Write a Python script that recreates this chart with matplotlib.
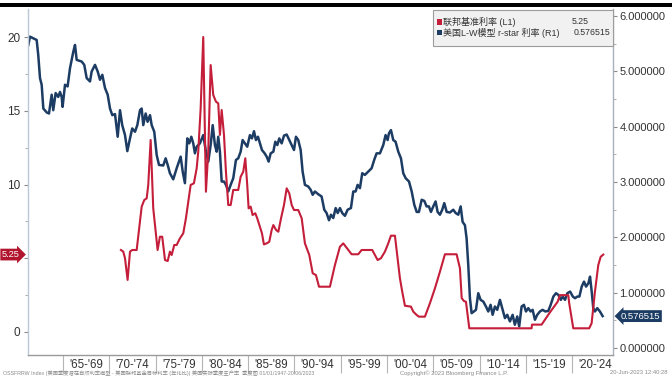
import matplotlib.pyplot as plt
import matplotlib.transforms as mtransforms
from matplotlib.patches import Rectangle
from matplotlib.ticker import FormatStrFormatter, MultipleLocator

plt.rcParams['font.family'] = ['Liberation Sans', 'Noto Sans CJK SC', 'DejaVu Sans']
plt.rcParams['axes.unicode_minus'] = False

RED = '#c41e3a'
NAVY = '#1d3c64'

# 联邦基准利率 (L1), decimal years
ff_year = [1971.26, 1971.51, 1971.70, 1971.98, 1972.24, 1972.48, 1972.96, 1973.32, 1973.50, 1973.78,
           1974.04, 1974.21, 1974.47, 1974.75, 1975.01, 1975.22, 1975.47, 1975.72, 1976.02, 1976.31,
           1976.55, 1976.74, 1977.02, 1977.28, 1977.63, 1977.99, 1978.28, 1978.53, 1978.79, 1979.14,
           1979.44, 1979.61, 1979.87, 1980.15, 1980.33, 1980.44, 1980.69, 1980.95, 1981.23, 1981.52,
           1981.77, 1981.95, 1982.14, 1982.39, 1982.60, 1982.85, 1983.11, 1983.39, 1983.93, 1984.19,
           1984.47, 1984.69, 1984.90, 1985.05, 1985.27, 1985.48, 1985.77, 1985.98, 1986.27, 1986.49,
           1986.70, 1987.00, 1987.28, 1987.54, 1987.72, 1988.01, 1988.26, 1988.55, 1988.87, 1989.16,
           1989.44, 1989.70, 1989.95, 1990.41, 1990.78, 1991.13, 1991.60, 1991.97, 1992.32, 1992.65,
           1993.83, 1994.37, 1994.91, 1995.27, 1995.81, 1996.17, 1996.89, 1997.25, 1998.40, 1998.69,
           1998.98, 1999.34, 1999.77, 2000.13, 2000.42, 2000.85, 2001.14, 2001.39, 2001.64, 2001.93,
           2002.58, 2002.83, 2003.20, 2003.44, 2004.09, 2004.63, 2005.17, 2005.71, 2006.25, 2007.51,
           2007.87, 2008.06, 2008.30, 2008.52, 2008.88, 2015.61, 2015.65, 2016.69, 2017.52, 2018.42,
           2018.67, 2019.57, 2019.67, 2020.11, 2021.83, 2022.09, 2022.45, 2022.81, 2023.07, 2023.35]
ff_rate = [5.56, 5.45, 5.00, 3.53, 5.45, 5.56, 5.56, 7.48, 8.50, 8.95,
           9.06, 9.97, 13.02, 8.38, 6.80, 5.56, 6.46, 6.46, 4.88, 4.81,
           5.45, 5.22, 5.90, 5.90, 6.35, 6.69, 7.71, 8.84, 9.97, 10.08,
           11.10, 12.23, 15.17, 20.00, 13.58, 9.51, 12.23, 18.10, 16.07, 15.62,
           15.50, 13.36, 15.05, 13.36, 10.87, 8.61, 8.61, 9.63, 9.63, 10.53,
           10.87, 11.78, 9.97, 8.38, 8.50, 7.93, 8.05, 7.71, 7.14, 6.69,
           5.94, 6.01, 6.12, 6.92, 7.25, 6.92, 6.80, 7.71, 8.61, 9.74,
           9.40, 8.61, 8.27, 8.27, 7.71, 6.01, 5.22, 3.98, 3.86, 3.07,
           3.07, 4.54, 5.78, 6.01, 5.56, 5.27, 5.27, 5.56, 5.56, 5.22,
           4.88, 5.00, 5.45, 6.01, 6.53, 6.53, 5.00, 3.64, 2.73, 1.78,
           1.72, 1.38, 1.15, 1.04, 1.04, 1.95, 2.96, 4.09, 5.27, 5.27,
           4.32, 2.30, 2.10, 2.05, 0.25, 0.25, 0.50, 0.50, 1.27, 2.05,
           2.50, 2.50, 1.95, 0.25, 0.25, 0.59, 2.73, 4.54, 5.10, 5.25]

# 美国L-W模型 r-star 利率 (R1)
rs_year = [1961.26, 1961.44, 1961.79, 1962.16, 1962.33, 1962.52, 1962.70, 1962.88, 1963.24, 1963.49,
           1963.78, 1963.95, 1964.21, 1964.49, 1964.68, 1964.86, 1964.96, 1965.22, 1965.50, 1965.76,
           1966.12, 1966.30, 1966.48, 1967.02, 1967.30, 1967.56, 1967.92, 1968.10, 1968.46, 1968.75,
           1969.00, 1969.25, 1969.54, 1969.83, 1970.08, 1970.33, 1970.62, 1970.91, 1971.16, 1971.40,
           1971.70, 1971.95, 1972.24, 1972.48, 1972.78, 1973.03, 1973.32, 1973.50, 1973.67, 1973.93,
           1974.14, 1974.40, 1974.58, 1974.86, 1975.12, 1975.37, 1975.83, 1976.09, 1976.31, 1976.55,
           1976.91, 1977.28, 1977.71, 1977.93, 1978.17, 1978.43, 1978.64, 1978.86, 1979.07, 1979.25,
           1979.44, 1979.79, 1980.15, 1980.44, 1980.69, 1980.95, 1981.17, 1981.41, 1981.60, 1981.77,
           1981.95, 1982.14, 1982.39, 1982.60, 1982.85, 1983.11, 1983.39, 1983.68, 1983.93, 1984.19,
           1984.40, 1984.65, 1984.90, 1985.19, 1985.41, 1985.63, 1985.84, 1986.06, 1986.27, 1986.49,
           1986.78, 1987.00, 1987.21, 1987.43, 1987.72, 1987.93, 1988.15, 1988.36, 1988.62, 1988.87,
           1989.16, 1989.44, 1989.70, 1989.95, 1990.16, 1990.41, 1990.67, 1990.88, 1991.13, 1991.49,
           1991.75, 1991.97, 1992.21, 1992.57, 1992.93, 1993.22, 1993.47, 1993.73, 1993.94, 1994.19,
           1994.45, 1994.67, 1994.91, 1995.16, 1995.45, 1995.74, 1996.10, 1996.35, 1996.60, 1996.82,
           1997.07, 1997.32, 1997.61, 1997.97, 1998.33, 1998.61, 1998.87, 1999.23, 1999.59, 1999.84,
           2000.06, 2000.20, 2000.42, 2000.67, 2000.92, 2001.21, 2001.50, 2001.75, 2002.01, 2002.37,
           2002.66, 2002.94, 2003.20, 2003.44, 2003.74, 2004.02, 2004.27, 2004.52, 2004.74, 2004.99,
           2005.24, 2005.46, 2005.71, 2005.96, 2006.18, 2006.44, 2006.79, 2007.15, 2007.41, 2007.69,
           2007.95, 2008.16, 2008.41, 2008.59, 2008.77, 2008.95, 2009.13, 2009.38, 2009.60, 2009.85,
           2010.10, 2010.39, 2010.68, 2010.93, 2011.18, 2011.40, 2011.65, 2011.90, 2012.19, 2012.48,
           2012.73, 2012.98, 2013.27, 2013.56, 2013.80, 2014.06, 2014.27, 2014.53, 2014.78, 2015.00,
           2015.25, 2015.50, 2015.72, 2015.97, 2016.22, 2016.51, 2016.80, 2017.09, 2017.41, 2017.67,
           2017.96, 2018.24, 2018.50, 2018.76, 2018.97, 2019.22, 2019.47, 2019.77, 2020.06, 2020.30,
           2020.55, 2020.77, 2021.02, 2021.27, 2021.49, 2021.74, 2021.92, 2022.10, 2022.27, 2022.45,
           2022.70, 2022.99, 2023.28]
rs_rate = [5.48, 5.63, 5.60, 5.57, 5.30, 4.88, 4.76, 4.33, 4.26, 4.24,
           4.58, 4.30, 4.61, 4.54, 4.63, 4.54, 4.36, 4.76, 4.73, 5.06,
           5.36, 5.48, 5.21, 5.18, 5.12, 4.88, 4.82, 5.00, 5.12, 5.00,
           4.85, 4.94, 4.70, 4.58, 4.33, 4.21, 4.23, 3.82, 4.30, 4.03,
           3.85, 3.56, 3.79, 3.97, 3.91, 4.03, 4.30, 4.33, 4.03, 4.24,
           4.09, 4.21, 4.03, 3.91, 3.49, 3.31, 3.30, 3.43, 3.31, 3.16,
           3.05, 3.25, 3.46, 3.19, 2.98, 3.79, 3.70, 3.82, 3.70, 3.52,
           3.64, 3.70, 3.85, 3.55, 3.37, 3.67, 4.03, 3.67, 3.55, 3.82,
           3.55, 3.01, 3.01, 2.95, 2.83, 2.95, 3.07, 3.40, 3.43, 3.55,
           3.76, 3.70, 3.64, 3.85, 3.79, 3.92, 3.76, 3.82, 3.70, 3.58,
           3.52, 3.46, 3.37, 3.52, 3.55, 3.73, 3.67, 3.79, 3.70, 3.84,
           3.86, 3.76, 3.67, 3.58, 3.82, 3.76, 3.58, 3.19, 2.95, 2.92,
           2.86, 2.77, 2.83, 2.78, 2.74, 2.50, 2.44, 2.31, 2.41, 2.35,
           2.53, 2.44, 2.53, 2.44, 2.39, 2.50, 2.53, 2.83, 2.83, 2.95,
           2.89, 3.16, 3.13, 3.19, 3.25, 3.40, 3.52, 3.52, 3.67, 3.85,
           3.76, 3.88, 3.94, 3.76, 3.73, 3.55, 3.43, 3.16, 3.07, 3.01,
           2.83, 2.59, 2.46, 2.46, 2.68, 2.66, 2.56, 2.56, 2.46, 2.56,
           2.65, 2.46, 2.41, 2.50, 2.62, 2.46, 2.45, 2.50, 2.44, 2.41,
           2.56, 2.28, 2.22, 1.98, 1.50, 0.90, 0.63, 0.66, 0.69, 0.99,
           0.87, 0.84, 0.75, 0.66, 0.78, 0.60, 0.75, 0.69, 0.87, 0.69,
           0.54, 0.60, 0.48, 0.60, 0.42, 0.57, 0.39, 0.75, 0.78, 0.66,
           0.72, 0.66, 0.69, 0.51, 0.60, 0.66, 0.69, 0.66, 0.67, 0.78,
           0.93, 0.99, 0.96, 0.87, 0.93, 0.87, 0.99, 1.02, 0.93, 0.90,
           0.93, 0.93, 1.11, 1.20, 1.11, 1.17, 1.29, 1.02, 0.72, 0.66,
           0.72, 0.66, 0.576515]

ff_last = 5.25
rs_last = 0.576515

bin_starts = list(range(1965, 2021, 5))
bin_labels = ["'65-'69", "'70-'74", "'75-'79", "'80-'84", "'85-'89", "'90-'94",
              "'95-'99", "'00-'04", "'05-'09", "'10-'14", "'15-'19", "'20-'24"]
left_ticks = [0, 5, 10, 15, 20]
left_labels = ['0', '', '10', '15', '20']   # the 5 label sits under the last-value tag

fig = plt.figure(figsize=(6.72, 3.78), dpi=100)
ax = fig.add_axes([27.5 / 672, 1 - 355 / 378, (613 - 27.5) / 672, 346 / 378])
ax2 = ax.twinx()
# red series sits on top of the navy one
ax.set_zorder(ax2.get_zorder() + 1)
ax.patch.set_visible(False)

ax.plot(ff_year, ff_rate, color=RED, lw=1.5, solid_joinstyle='round')
ax2.plot(rs_year, rs_rate, color=NAVY, lw=1.8, solid_joinstyle='round')

ax.set_xlim(1961.17, 2024.40)
ax.set_ylim(-1.56, 21.9)
ax2.set_ylim(-0.127, 6.13)

for a in (ax, ax2):
    a.spines['top'].set_visible(False)
ax.spines['right'].set_visible(False)
ax2.spines['left'].set_visible(False)
ax2.spines['bottom'].set_visible(False)
ax.spines['left'].set_color('#bcc7d6')
ax.spines['bottom'].set_color('#9a9a9a')
ax2.spines['right'].set_color('#a8b0bc')
for s in ('left', 'bottom'):
    ax.spines[s].set_linewidth(1.0)
ax2.spines['right'].set_linewidth(1.0)

# x axis: separators between 5-year blocks, labels in the middle of each block
ax.set_xticks(bin_starts)
ax.set_xticklabels([''] * len(bin_starts))
ax.set_xticks([b + 2.5 for b in bin_starts], minor=True)
ax.set_xticklabels(bin_labels, minor=True)
ax.tick_params(axis='x', which='major', length=13, width=0.8, color='#b5b5b5')
ax.tick_params(axis='x', which='minor', length=0, pad=3, labelsize=8.3, labelcolor='#333333')

ax.set_yticks(left_ticks)
ax.set_yticklabels(left_labels)
ax.yaxis.set_minor_locator(MultipleLocator(2.5))
ax.tick_params(axis='y', which='major', length=3, width=0.8, color='#8a8a8a',
               labelsize=8.5, labelcolor='#333333', pad=2)
ax.tick_params(axis='y', which='minor', length=2, width=0.6, color='#a0a0a0')

ax2.set_yticks(range(0, 7))
ax2.yaxis.set_major_formatter(FormatStrFormatter('%.6f'))
ax2.yaxis.set_minor_locator(MultipleLocator(0.5))
ax2.tick_params(axis='y', which='major', length=3, width=0.8, color='#8a8a8a',
                labelsize=8, labelcolor='#333333', pad=1.5)
ax2.tick_params(axis='y', which='minor', length=2, width=0.6, color='#a0a0a0')

# last-value tags on both axes
tl = mtransforms.blended_transform_factory(ax.transAxes, ax.transData)
ax.text(-0.0135, ff_last, f'{ff_last:.2f}', transform=tl, ha='right', va='center',
        color='white', fontsize=6.6, clip_on=False, zorder=10,
        bbox=dict(boxstyle='rarrow,pad=0.15', fc='#b2162e', ec='none'))
tr = mtransforms.blended_transform_factory(ax2.transAxes, ax2.transData)
ax2.text(1.0135, rs_last, f'{rs_last:.6f}', transform=tr, ha='left', va='center',
         color='white', fontsize=6.8, clip_on=False, zorder=10,
         bbox=dict(boxstyle='larrow,pad=0.15', fc=NAVY, ec='none'))

# legend panel
fig.patches.append(Rectangle((432.5 / 672, 1 - 45.5 / 378), 180 / 672, 35.5 / 378,
                             transform=fig.transFigure, fc='#f1f1f1', ec='#9c9c9c', lw=0.8))
rows = [(22.0, RED, '联邦基准利率 (L1)', f'{ff_last:.2f}', 589),
        (32.5, NAVY, '美国L-W模型 r-star 利率 (R1)', f'{rs_last:.6f}', 610)]
for yy, col, lab, val, vx in rows:
    fig.patches.append(Rectangle((436.5 / 672, 1 - (yy + 2.5) / 378), 5 / 672, 5 / 378,
                                 transform=fig.transFigure, fc=col, ec='none'))
    fig.text(443 / 672, 1 - yy / 378, lab, ha='left', va='center', fontsize=6.5, color='#333333')
    fig.text(vx / 672, 1 - yy / 378, val, ha='right', va='center', fontsize=6.3, color='#333333')

# header rule
fig.patches.append(Rectangle((0, 1 - 6.5 / 378), 1, 3.5 / 378, transform=fig.transFigure,
                             fc='black', ec='none'))

# footer
fig.text(3 / 672, 1 - 373 / 378,
         'OSSFRRW Index (美国季度潜在自然利率模型 - 美国联邦基金目标利率 (年化比)) 美国实际季度生产率  季度图 01/01/1947-20/06/2023',
         ha='left', va='center', fontsize=3.8, color='#8a8a8a')
fig.text(454 / 672, 1 - 373 / 378, 'Copyright© 2023 Bloomberg Finance L.P.',
         ha='center', va='center', fontsize=4.2, color='#8a8a8a')
fig.text(668 / 672, 1 - 373 / 378, '20-Jun-2023 12:40:28',
         ha='right', va='center', fontsize=4.2, color='#8a8a8a')

fig.savefig('out.png', dpi=100)
